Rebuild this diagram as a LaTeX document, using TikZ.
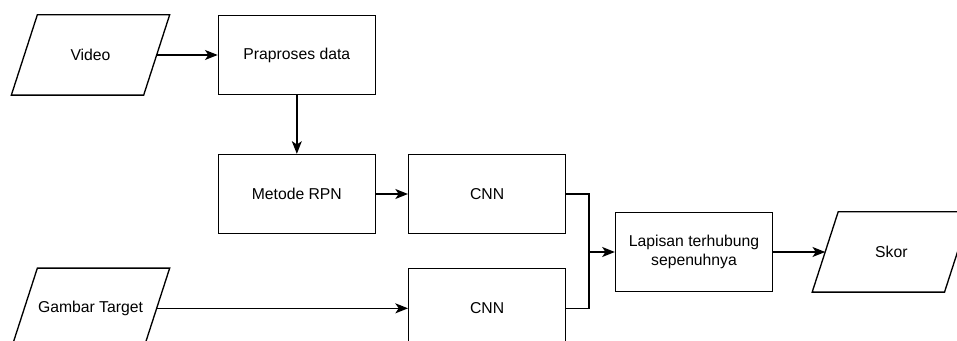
\documentclass[tikz,border=0pt]{standalone}
\usepackage{fontspec}
\setmainfont{Liberation Sans}
\usetikzlibrary{positioning,arrows.meta}
\begin{document}
\begin{tikzpicture}[x=0.75pt, y=-0.75pt, line width=1pt,
          every node/.style = {draw, align=center, font=\fontsize{11.8}{14}\selectfont},
          proc/.style = {rectangle, minimum width=117.75pt, minimum height=59.25pt},
          io/.style = {proc, draw=none, minimum width=98.25pt},
          flow/.style = {-{Stealth[length=9.5pt, width=7.5pt, inset=2.5pt]}}]
          \clip (0,0) rectangle (957,341);
          \node[io] (video) at (90.5, 55) {Video};
          \node[proc, right=45.75pt of video] (prep) {Praproses data};
          \node[proc, below=44pt of prep] (rpn) {Metode RPN};
          \node[proc, right=24pt of rpn] (cnna) {CNN};
          \node[proc, below=25.5pt of cnna] (cnnb) {CNN};
          \node[io] (target) at (video |- cnnb) {Gambar Target};
          \node[proc] (fc) at (694, 252) {Lapisan terhubung\\sepenuhnya};
          \node[io, right=39pt of fc] (skor) {Skor};
          % slanted input/output boxes
          \foreach \n in {video, target, skor}
            \draw ([xshift=9.75pt]\n.north west) -- ([xshift=9.75pt]\n.north east)
              -- ([xshift=-9.75pt]\n.south east) -- ([xshift=-9.75pt]\n.south west) -- cycle;
          \coordinate (join) at (589, 252);
          \draw[flow] (video) -- (prep);
          \draw[flow] (prep) -- (rpn);
          \draw[flow] (rpn) -- (cnna);
          \draw[flow] (target) -- (cnnb);
          \draw (cnna.east) -| (join);
          \draw (cnnb.east) -| (join);
          \draw[flow] (join) -- (fc);
          \draw[flow] (fc) -- (skor);
        \end{tikzpicture}
\end{document}
